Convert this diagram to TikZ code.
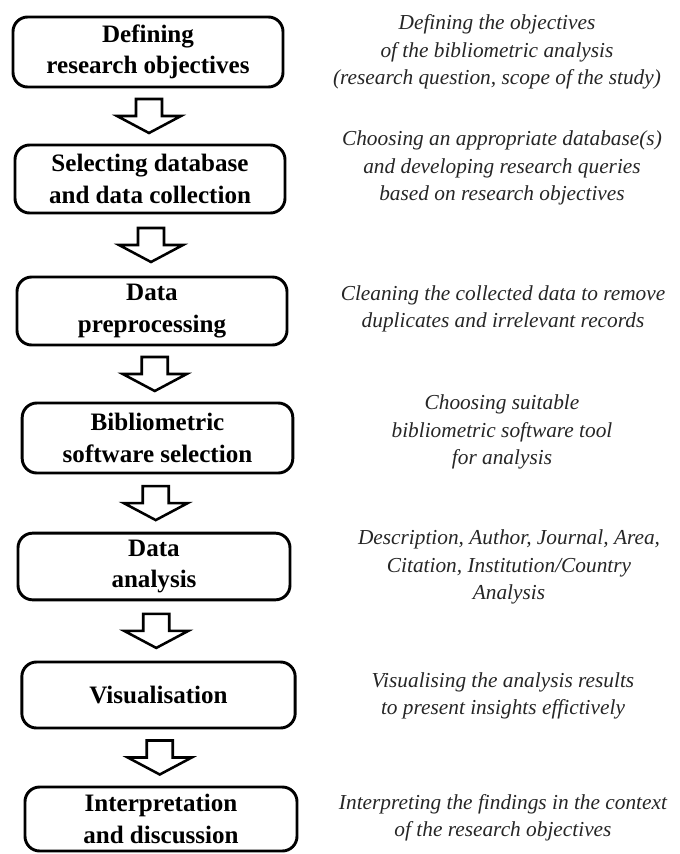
\documentclass[tikz,border=0pt]{standalone}
\usepackage{fontspec}
\setmainfont{Liberation Serif}
\usetikzlibrary{calc}

\tikzset{
  stepbox/.style={draw=black, line width=2.2pt, rounded corners=11pt,
    align=center, inner sep=0pt,
    font=\bfseries\fontsize{18.8}{23.5}\selectfont},
  note/.style={align=center, inner sep=0pt, text=black!85,
    font=\itshape\fontsize{16}{20.5}\selectfont},
  blockarrow/.style={draw=black, line width=1.9pt, fill=white, line join=miter},
}

% hollow downward arrow centred in the gap between two boxes
\newcommand\flowarrow[2]{%
  \path ($(#1.south)!.5!(#2.north)$) coordinate (#1-#2);
  \draw[blockarrow] ($(#1-#2)+(-13,-17)$) -- ++(26,0) -- ++(0,17) -- ++(19,0)
    -- ++(-32,17) -- ++(-32,-17) -- ++(19,0) -- cycle;
}

\begin{document}
\begin{tikzpicture}[x=0.75pt, y=-0.75pt]
  \useasboundingbox[fill=white] (0,0) rectangle (680,854);

  % process steps
  \node[stepbox, minimum width=202.5pt, minimum height=52.5pt] (b1) at (148,52)
    {Defining\\research objectives};
  \node[stepbox, minimum width=202.5pt, minimum height=51pt] (b2) at (150,179)
    {Selecting database\\and data collection};
  \node[stepbox, minimum width=202.5pt, minimum height=51pt] (b3) at (152,311)
    {Data\\preprocessing};
  \node[stepbox, minimum width=203pt, minimum height=52.5pt] (b4) at (157.5,438)
    {Bibliometric\\software selection};
  \node[stepbox, minimum width=204pt, minimum height=50pt] (b5) at (154,566.5)
    {Data\\analysis};
  \node[stepbox, minimum width=205pt, minimum height=49.5pt] (b6) at (158.5,695)
    {Visualisation};
  \node[stepbox, minimum width=204pt, minimum height=48pt] (b7) at (161,819)
    {Interpretation\\and discussion};

  % arrows between steps
  \flowarrow{b1}{b2}
  \flowarrow{b2}{b3}
  \flowarrow{b3}{b4}
  \flowarrow{b4}{b5}
  \flowarrow{b5}{b6}
  \flowarrow{b6}{b7}

  % descriptions
  \node[note] (d1) at (497,52)
    {Defining the objectives\\of the bibliometric analysis\\(research question, scope of the study)};
  \node[note] (d2) at (502,168)
    {Choosing an appropriate database(s)\\and developing research queries\\based on research objectives};
  \node[note] (d3) at (503,309)
    {Cleaning the collected data to remove\\duplicates and irrelevant records};
  \node[note] (d4) at (502,432)
    {Choosing suitable\\bibliometric software tool\\for analysis};
  \node[note] (d5) at (509,567)
    {Description, Author, Journal, Area,\\Citation, Institution/Country\\Analysis};
  \node[note] (d6) at (503,696)
    {Visualising the analysis results\\to present insights effictively};
  \node[note] (d7) at (503,818)
    {Interpreting the findings in the context\\of the research objectives};
\end{tikzpicture}
\end{document}
